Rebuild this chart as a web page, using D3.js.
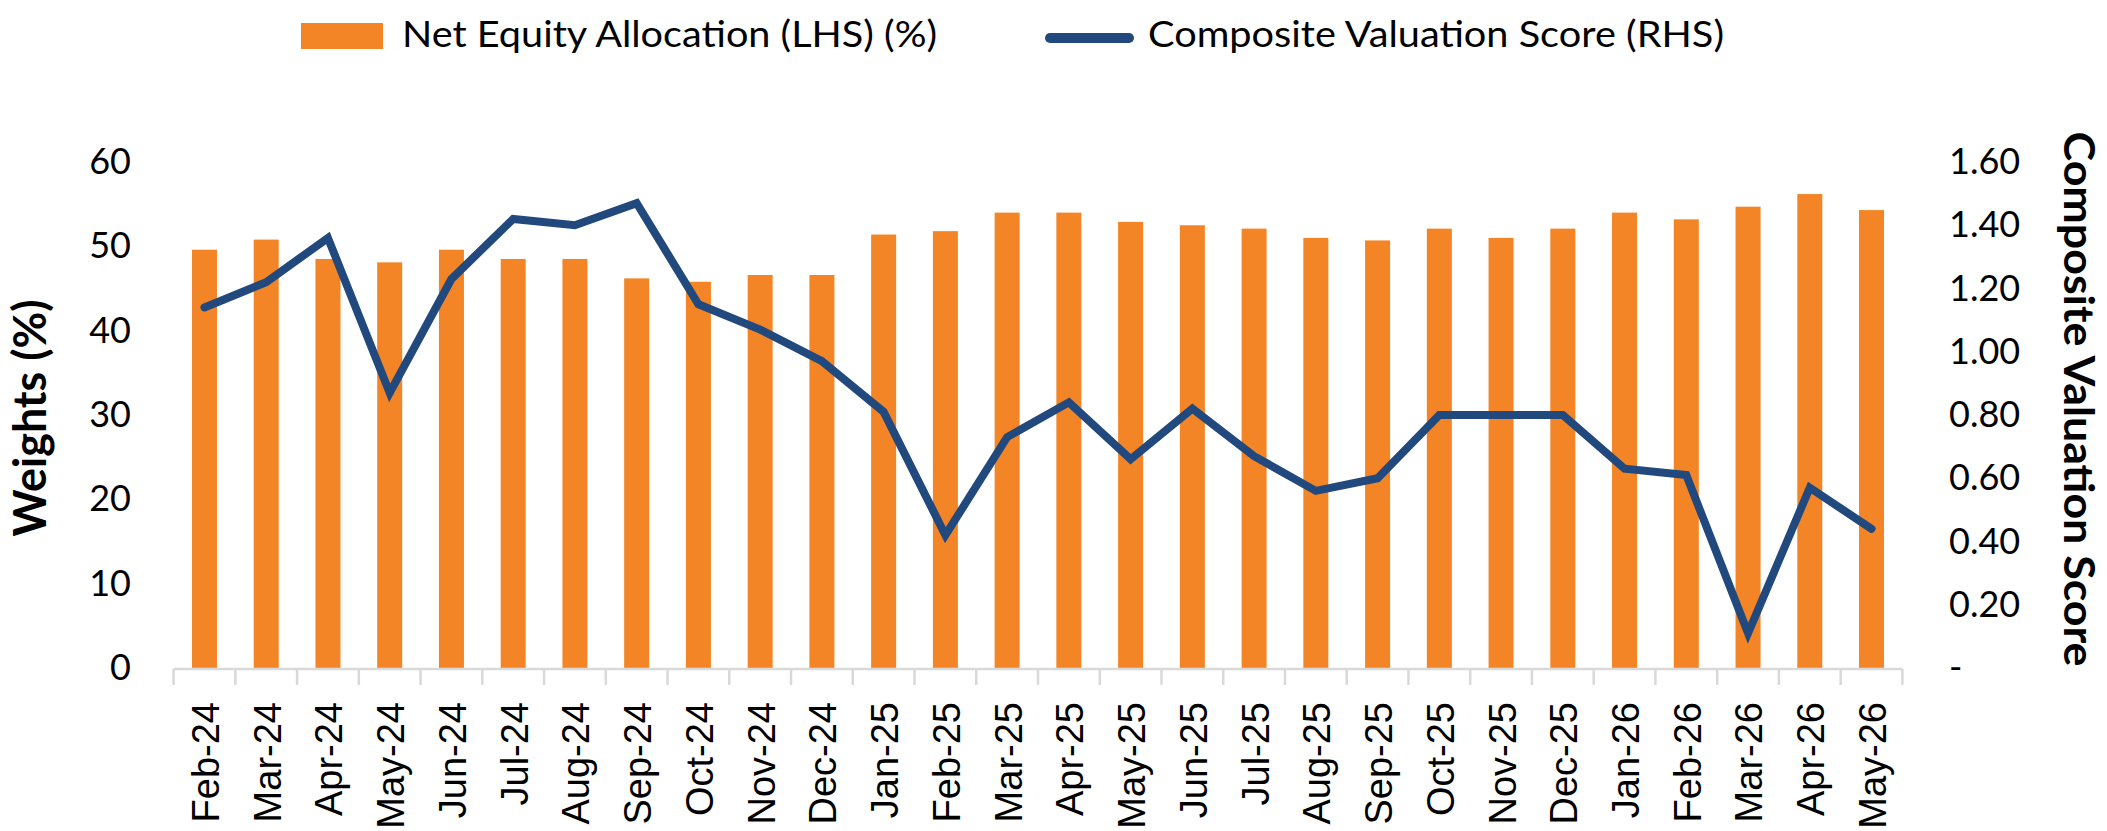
<!DOCTYPE html>
<html>
<head>
<meta charset="utf-8">
<script src="https://cdn.jsdelivr.net/npm/d3@7"></script>
<style>
  body { margin: 0; background: #ffffff; }
  svg { display: block; }
</style>
</head>
<body>
<svg id="chart" width="2107" height="831"></svg>
<script>
// months on the x axis
var months = [
  "Feb-24", "Mar-24", "Apr-24", "May-24", "Jun-24", "Jul-24", "Aug-24",
  "Sep-24", "Oct-24", "Nov-24", "Dec-24", "Jan-25", "Feb-25", "Mar-25",
  "Apr-25", "May-25", "Jun-25", "Jul-25", "Aug-25", "Sep-25", "Oct-25",
  "Nov-25", "Dec-25", "Jan-26", "Feb-26", "Mar-26", "Apr-26", "May-26"
];
// net equity allocation, % (bars, LHS)
var equityAllocation = [
  49.6, 50.8, 48.5, 48.1, 49.6, 48.5, 48.5, 46.2, 45.8, 46.6, 46.6, 51.4,
  51.8, 54.0, 54.0, 52.9, 52.5, 52.1, 51.0, 50.7, 52.1, 51.0, 52.1, 54.0,
  53.2, 54.7, 56.2, 54.3
];
// composite valuation score (line, RHS)
var valuationScore = [
  1.14, 1.22, 1.36, 0.87, 1.23, 1.42, 1.40, 1.47, 1.15, 1.07, 0.97, 0.81,
  0.42, 0.73, 0.84, 0.66, 0.82, 0.67, 0.56, 0.60, 0.80, 0.80, 0.80, 0.63,
  0.61, 0.11, 0.57, 0.44
];
var leftTicks = [0, 10, 20, 30, 40, 50, 60];
var rightTicks = [0, 0.2, 0.4, 0.6, 0.8, 1.0, 1.2, 1.4, 1.6];
var barLabel = "Net Equity Allocation (LHS) (%)";
var lineLabel = "Composite Valuation Score (RHS)";
var leftTitle = "Weights (%)";
var rightTitle = "Composite Valuation Score";

var orange = "#f48526";
var navy = "#21497d";
var axisGrey = "#d9d9d9";
var font = "Lato, 'Open Sans', sans-serif";

var svg = d3.select("#chart");
svg.append("rect").attr("width", 2107).attr("height", 831).attr("fill", "#fff");

var x = d3.scaleBand().domain(months).range([173.6, 1902.4]);
var step = x.step();
var barWidth = step * 0.405;

var yLeft = d3.scaleLinear().domain([0, 60]).range([668, 162]);
var yRight = d3.scaleLinear().domain([0, 1.6]).range([668, 162]);

// bars
svg
  .append("g")
  .selectAll("rect")
  .data(equityAllocation)
  .join("rect")
  .attr("x", function (d, i) {
    return x(months[i]) + (step - barWidth) / 2;
  })
  .attr("width", barWidth)
  .attr("y", function (d) {
    return yLeft(d);
  })
  .attr("height", function (d) {
    return yLeft(0) - yLeft(d);
  })
  .attr("fill", orange);

// x axis: line, ticks between categories, rotated labels
var xAxis = svg
  .append("g")
  .attr("transform", "translate(0,669)")
  .call(d3.axisBottom(x).tickSize(0).tickPadding(0));
xAxis.select(".domain").remove();
xAxis.selectAll(".tick line").remove();
xAxis
  .selectAll(".tick text")
  .attr("transform", "translate(0,33) rotate(-90)")
  .attr("text-anchor", "end")
  .attr("x", 0)
  .attr("y", 0)
  .attr("dy", "0.38em")
  .style("font-family", "'Liberation Sans', Arial, sans-serif")
  .style("font-size", "38px")
  .attr("fill", "#000");

var boundaries = months.map(function (m) {
  return x(m);
});
boundaries.push(x.range()[1]);
svg
  .append("g")
  .selectAll("line")
  .data(boundaries)
  .join("line")
  .attr("x1", function (d) {
    return d;
  })
  .attr("x2", function (d) {
    return d;
  })
  .attr("y1", 669)
  .attr("y2", 685)
  .attr("stroke", axisGrey)
  .attr("stroke-width", 2.5);
svg
  .append("line")
  .attr("x1", x.range()[0])
  .attr("x2", x.range()[1])
  .attr("y1", 669)
  .attr("y2", 669)
  .attr("stroke", axisGrey)
  .attr("stroke-width", 2.5);

// left axis
var leftAxis = svg
  .append("g")
  .attr("transform", "translate(131,0)")
  .call(d3.axisLeft(yLeft).tickValues(leftTicks).tickSize(0).tickPadding(0));
leftAxis.select(".domain").remove();
leftAxis
  .selectAll("text")
  .style("font-family", font)
  .style("font-size", "36px")
  .attr("fill", "#000");

// right axis ("-" for zero, like the accounting format)
var rightAxis = svg
  .append("g")
  .attr("transform", "translate(1949,0)")
  .call(
    d3
      .axisRight(yRight)
      .tickValues(rightTicks)
      .tickSize(0)
      .tickPadding(0)
      .tickFormat(function (d) {
        return d === 0 ? "-" : d3.format(".2f")(d);
      })
  );
rightAxis.select(".domain").remove();
rightAxis
  .selectAll("text")
  .style("font-family", font)
  .style("font-size", "36px")
  .attr("fill", "#000");

// line
var line = d3
  .line()
  .x(function (d, i) {
    return x(months[i]) + step / 2;
  })
  .y(function (d) {
    return yRight(d);
  });
svg
  .append("path")
  .datum(valuationScore)
  .attr("d", line)
  .attr("fill", "none")
  .attr("stroke", navy)
  .attr("stroke-width", 8)
  .attr("stroke-linejoin", "miter")
  .attr("stroke-linecap", "round");

// axis titles
svg
  .append("text")
  .attr("transform", "translate(46,418) rotate(-90)")
  .attr("text-anchor", "middle")
  .attr("textLength", 237)
  .attr("lengthAdjust", "spacingAndGlyphs")
  .style("font-family", font)
  .style("font-weight", "bold")
  .style("font-size", "45px")
  .text(leftTitle);
svg
  .append("text")
  .attr("transform", "translate(2064,399) rotate(90)")
  .attr("text-anchor", "middle")
  .attr("textLength", 535)
  .attr("lengthAdjust", "spacingAndGlyphs")
  .style("font-family", font)
  .style("font-weight", "bold")
  .style("font-size", "42px")
  .text(rightTitle);

// legend
var legend = svg.append("g");
legend
  .append("rect")
  .attr("x", 301)
  .attr("y", 23)
  .attr("width", 82)
  .attr("height", 26)
  .attr("fill", orange);
legend
  .append("text")
  .attr("x", 402)
  .attr("y", 47)
  .attr("textLength", 535)
  .attr("lengthAdjust", "spacingAndGlyphs")
  .style("font-family", font)
  .style("font-size", "37px")
  .text(barLabel);
legend
  .append("line")
  .attr("x1", 1050)
  .attr("x2", 1129)
  .attr("y1", 38)
  .attr("y2", 38)
  .attr("stroke", navy)
  .attr("stroke-width", 10)
  .attr("stroke-linecap", "round");
legend
  .append("text")
  .attr("x", 1148)
  .attr("y", 47)
  .attr("textLength", 576)
  .attr("lengthAdjust", "spacingAndGlyphs")
  .style("font-family", font)
  .style("font-size", "37px")
  .text(lineLabel);
</script>
</body>
</html>
